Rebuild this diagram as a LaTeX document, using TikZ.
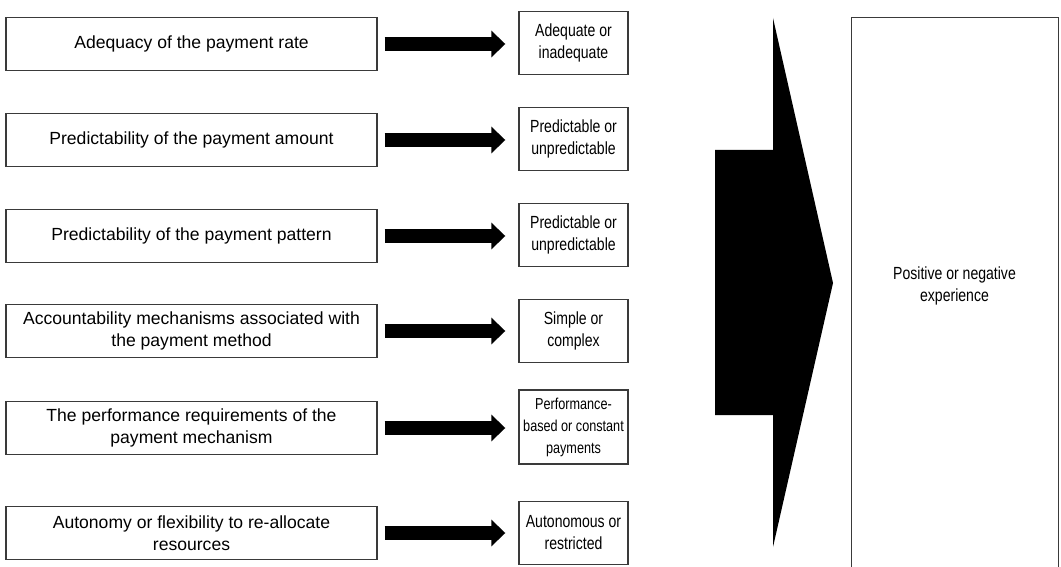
\documentclass[tikz,border=0pt]{standalone}
\usepackage{fontspec}
\setmainfont{Liberation Sans}
\newfontfamily\narrowsf[FakeStretch=0.8]{Liberation Sans}
\usetikzlibrary{arrows.meta,positioning}
\definecolor{edge}{HTML}{3A3A3A}
\tikzset{
  box/.style={draw=edge, fill=white, line width=0.8pt, align=center,
              font=\fontsize{10}{12.5}\selectfont, inner sep=3pt},
  factor/.style={box, minimum width=7.42cm, minimum height=1.06cm},
  outcome/.style={box, font=\narrowsf\fontsize{10}{12.5}\selectfont,
                  minimum width=2.18cm, minimum height=1.26cm},
  resultbox/.style={box, anchor=north west, minimum width=4.14cm, minimum height=11.4cm},
  resulttxt/.style={align=center, font=\narrowsf\fontsize{10}{12.5}\selectfont},
  fat/.style={-{Triangle[length=0.28cm, width=0.52cm]}, line width=0.28cm,
              shorten <=0.14cm, shorten >=0.26cm}
}

\begin{document}
\begin{tikzpicture}[x=0.02cm,y=-0.02cm]
  \useasboundingbox (0,0) rectangle (1061,567);

  % features of the payment method
  \node[factor] (f1) at (191.5,44)  {Adequacy of the payment rate};
  \node[factor] (f2) at (191.5,140) {Predictability of the payment amount};
  \node[factor] (f3) at (191.5,236) {Predictability of the payment pattern};
  \node[factor] (f4) at (191.5,331) {Accountability mechanisms associated with\\the payment method};
  \node[factor] (f5) at (191.5,428) {The performance requirements of the\\payment mechanism};
  \node[factor] (f6) at (191.5,533) {Autonomy or flexibility to re-allocate\\resources};

  % how each one is perceived
  \node[outcome] (o1) at (573.5,43)  {Adequate or\\inadequate};
  \node[outcome] (o2) at (573.5,139) {Predictable or\\unpredictable};
  \node[outcome] (o3) at (573.5,235) {Predictable or\\unpredictable};
  \node[outcome] (o4) at (573.5,331) {Simple or\\complex};
  \node[outcome, inner xsep=1pt, minimum height=1.48cm,
        font=\narrowsf\fontsize{9}{12.5}\selectfont] (o5) at (573.5,427)
        {Performance-\\based or constant\\payments};
  \node[outcome] (o6) at (573.5,533) {Autonomous or\\restricted};

  \draw[fat] (f1.east) -- (f1.east -| o1.west);
  \draw[fat] (f2.east) -- (f2.east -| o2.west);
  \draw[fat] (f3.east) -- (f3.east -| o3.west);
  \draw[fat] (f4.east) -- (f4.east -| o4.west);
  \draw[fat] (f5.east) -- (f5.east -| o5.west);
  \draw[fat] (f6.east) -- (f6.east -| o6.west);

  % big arrow into the result
  \fill (715,150) -- (773,150) -- (773,18) -- (833,283) -- (773,547)
        -- (773,415) -- (715,415) -- cycle;

  \node[resultbox] (res) at (851,17) {};
  \node[resulttxt] (reslbl) at (954.5,286) {Positive or negative\\experience};
\end{tikzpicture}
\end{document}
